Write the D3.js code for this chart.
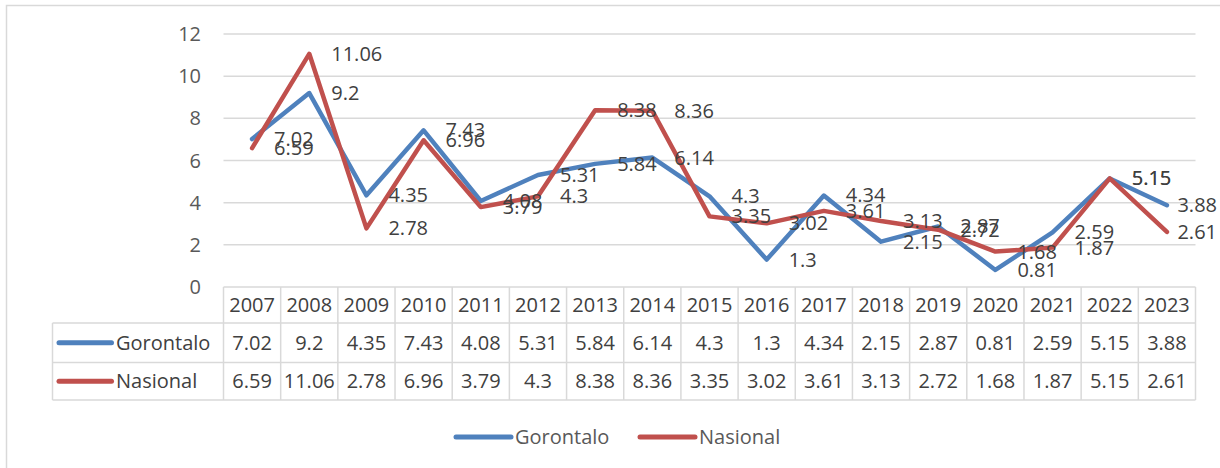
<!DOCTYPE html>
<head>
<meta charset="utf-8">
<title>Gorontalo dan Nasional 2007-2023</title>
<style>
    body { margin:0; background:#fff; }
    svg { display:block; font-family:"Open Sans", sans-serif; }
</style>
</head>

<body>
<svg width="1220" height="468"></svg>

<script src="https://cdnjs.cloudflare.com/ajax/libs/d3/7.8.5/d3.min.js"></script>
<script>
var years = ["2007","2008","2009","2010","2011","2012","2013","2014","2015","2016","2017","2018","2019","2020","2021","2022","2023"];
var gorontalo = [7.02, 9.2, 4.35, 7.43, 4.08, 5.31, 5.84, 6.14, 4.3, 1.3, 4.34, 2.15, 2.87, 0.81, 2.59, 5.15, 3.88];
var nasional = [6.59, 11.06, 2.78, 6.96, 3.79, 4.3, 8.38, 8.36, 3.35, 3.02, 3.61, 3.13, 2.72, 1.68, 1.87, 5.15, 2.61];
var seriesNames = ["Gorontalo", "Nasional"];
var yTicks = [0, 2, 4, 6, 8, 10, 12];

var colors = ["#4f81bd", "#c0504d"];
var series = [gorontalo, nasional];
var grid = "#d9d9d9";

var svg = d3.select("svg");

var x = d3.scaleBand().domain(years).range([223.5, 1195.5]);
var y = d3.scaleLinear().domain([0, 12]).range([287, 34]);
var bw = x.bandwidth();
var rowEdges = [287, 323, 362.5, 400];

// outer frame
svg.append("rect")
    .attr("x", 6.5).attr("y", 5.5)
    .attr("width", 1240).attr("height", 490)
    .attr("fill", "none").attr("stroke", grid).attr("stroke-width", 1.5);

// gridlines + ticks
svg.append("g").selectAll("line")
    .data(yTicks.filter(function(d){ return d > 0 }))
  .enter().append("line")
    .attr("x1", x.range()[0]).attr("x2", x.range()[1])
    .attr("y1", function(d){ return y(d) }).attr("y2", function(d){ return y(d) })
    .attr("stroke", grid).attr("stroke-width", 1.5);

svg.append("g").selectAll("text")
    .data(yTicks)
  .enter().append("text")
    .attr("x", 201)
    .attr("y", function(d){ return y(d) })
    .attr("dy", "0.35em")
    .attr("text-anchor", "end")
    .attr("font-size", 20)
    .attr("fill", "#595959")
    .text(function(d){ return d });

// data table
var table = svg.append("g").attr("stroke", grid).attr("stroke-width", 1.5);
rowEdges.forEach(function(ry, i){
  table.append("line")
      .attr("x1", i == 0 ? x.range()[0] : 52.5).attr("x2", x.range()[1])
      .attr("y1", ry).attr("y2", ry);
});
table.append("line")
    .attr("x1", 52.5).attr("x2", 52.5)
    .attr("y1", rowEdges[1]).attr("y2", rowEdges[3]);
years.concat([null]).forEach(function(yr){
  var vx = yr ? x(yr) : x.range()[1];
  table.append("line")
      .attr("x1", vx).attr("x2", vx)
      .attr("y1", rowEdges[0]).attr("y2", rowEdges[3]);
});

function rowMid(i){ return (rowEdges[i] + rowEdges[i+1]) / 2 }

svg.append("g").selectAll("text")
    .data(years)
  .enter().append("text")
    .attr("x", function(d){ return x(d) + bw/2 })
    .attr("y", rowMid(0))
    .attr("dy", "0.35em")
    .attr("text-anchor", "middle")
    .attr("font-size", 20)
    .attr("fill", "#404040")
    .text(function(d){ return d });

series.forEach(function(vals, s){
  var g = svg.append("g");
  g.append("line")
      .attr("x1", 59).attr("x2", 111.5)
      .attr("y1", rowMid(s+1)).attr("y2", rowMid(s+1))
      .attr("stroke", colors[s]).attr("stroke-width", 5).attr("stroke-linecap", "round");
  g.append("text")
      .attr("x", 116).attr("y", rowMid(s+1)).attr("dy", "0.35em")
      .attr("font-size", 20).attr("fill", "#404040")
      .text(seriesNames[s]);
  g.selectAll("text.v")
      .data(vals)
    .enter().append("text")
      .attr("class", "v")
      .attr("x", function(d, i){ return x(years[i]) + bw/2 })
      .attr("y", rowMid(s+1))
      .attr("dy", "0.35em")
      .attr("text-anchor", "middle")
      .attr("font-size", 20)
      .attr("fill", "#404040")
      .text(function(d){ return d });
});

// lines
var line = d3.line()
    .x(function(d, i){ return x(years[i]) + bw/2 })
    .y(function(d){ return y(d) });

series.forEach(function(vals, s){
  svg.append("path")
      .datum(vals)
      .attr("d", line)
      .attr("fill", "none")
      .attr("stroke", colors[s])
      .attr("stroke-width", 4.5)
      .attr("stroke-linejoin", "round")
      .attr("stroke-linecap", "round");
});

// data labels, right of each point, pushed back inside the chart at the edge
series.forEach(function(vals, s){
  svg.append("g").selectAll("text")
      .data(vals)
    .enter().append("text")
      .attr("y", function(d){ return y(d) })
      .attr("dy", "0.35em")
      .attr("font-size", 20)
      .attr("fill", "#404040")
      .text(function(d){ return d })
      .attr("x", function(d, i){
        var w = this.getComputedTextLength();
        return Math.min(x(years[i]) + bw/2 + 22, 1217 - w);
      });
});

// legend
var legendX = [456, 640];
series.forEach(function(vals, s){
  svg.append("line")
      .attr("x1", legendX[s]).attr("x2", legendX[s] + 55)
      .attr("y1", 437).attr("y2", 437)
      .attr("stroke", colors[s]).attr("stroke-width", 5).attr("stroke-linecap", "round");
  svg.append("text")
      .attr("x", legendX[s] + 59).attr("y", 437).attr("dy", "0.35em")
      .attr("font-size", 20).attr("fill", "#595959")
      .text(seriesNames[s]);
});
</script>
</body>
